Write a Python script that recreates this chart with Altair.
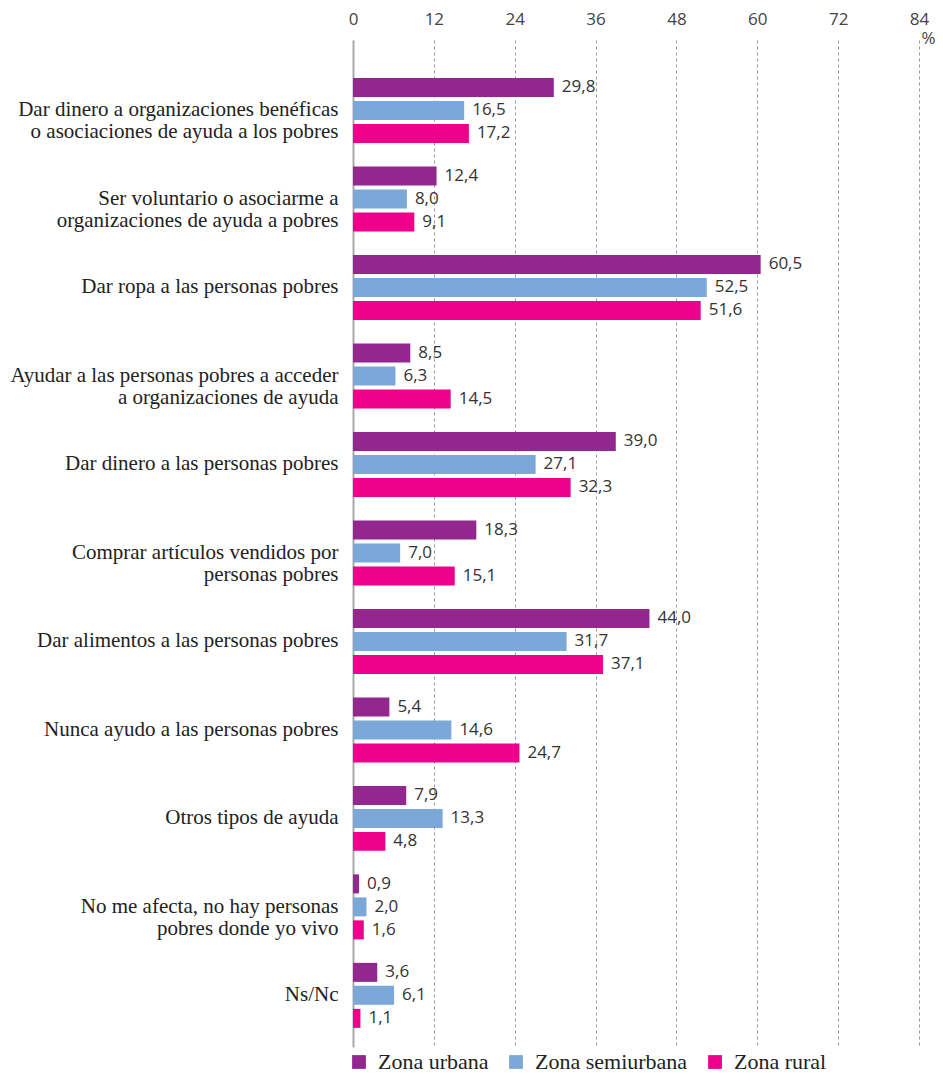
import altair as alt
import pandas as pd

categorias = [
    "Dar dinero a organizaciones benéficas|o asociaciones de ayuda a los pobres",
    "Ser voluntario o asociarme a|organizaciones de ayuda a pobres",
    "Dar ropa a las personas pobres",
    "Ayudar a las personas pobres a acceder|a organizaciones de ayuda",
    "Dar dinero a las personas pobres",
    "Comprar artículos vendidos por|personas pobres",
    "Dar alimentos a las personas pobres",
    "Nunca ayudo a las personas pobres",
    "Otros tipos de ayuda",
    "No me afecta, no hay personas|pobres donde yo vivo",
    "Ns/Nc",
]
zonas = ["Zona urbana", "Zona semiurbana", "Zona rural"]
urbana = [29.8, 12.4, 60.5, 8.5, 39.0, 18.3, 44.0, 5.4, 7.9, 0.9, 3.6]
semiurbana = [16.5, 8.0, 52.5, 6.3, 27.1, 7.0, 31.7, 14.6, 13.3, 2.0, 6.1]
rural = [17.2, 9.1, 51.6, 14.5, 32.3, 15.1, 37.1, 24.7, 4.8, 1.6, 1.1]
colores = ["#92278F", "#7BA7D9", "#EC008C"]
ticks_x = [0, 12, 24, 36, 48, 60, 72, 84]

rows = []
for serie, zona in zip([urbana, semiurbana, rural], zonas):
    for cat, v in zip(categorias, serie):
        rows.append({"cat": cat, "zona": zona, "valor": v,
                     "etiqueta": f"{v:.1f}".replace(".", ",")})
df = pd.DataFrame(rows)

y_enc = alt.Y("cat:N", sort=categorias,
              scale=alt.Scale(paddingInner=0, paddingOuter=0.19, align=0.78),
              axis=alt.Axis(title=None, labelExpr="split(datum.label, '|')",
                            labelFont="Liberation Serif", labelFontSize=21,
                            labelColor="#222", labelAlign="right",
                            labelBaseline="middle", labelLineHeight=22,
                            labelPadding=15, labelLimit=400, ticks=False,
                            tickSize=0, domain=True, domainColor="#aaaaaa",
                            domainWidth=2, grid=False))
yoff_enc = alt.YOffset("zona:N", sort=zonas,
                       scale=alt.Scale(paddingInner=0.174, paddingOuter=0.511))
x_enc = alt.X("valor:Q",
              scale=alt.Scale(domain=[0, 84], nice=False),
              axis=alt.Axis(orient="top", values=ticks_x, title="%",
                            titleFont="Open Sans", titleFontSize=17,
                            titleFontWeight="normal", titleColor="#444",
                            titleX=575, titleY=-2, titleAlign="center",
                            titleBaseline="middle", titleAngle=0,
                            labelFont="Open Sans", labelFontSize=17,
                            labelColor="#444", labelPadding=12,
                            labelFlush=False,
                            ticks=False, tickSize=0, domain=False,
                            grid=True, gridColor="#999999", gridDash=[3, 3],
                            gridWidth=1))

color_enc = alt.Color("zona:N", sort=zonas,
                      scale=alt.Scale(domain=zonas, range=colores),
                      legend=alt.Legend(title=None, orient="none",
                                        direction="horizontal",
                                        legendX=-5, legendY=1011, padding=0,
                                        symbolType="square", symbolSize=190,
                                        symbolStrokeWidth=0,
                                        labelFont="Liberation Serif",
                                        labelFontSize=22, labelColor="#222",
                                        labelOffset=8, columnPadding=16,
                                        labelLimit=300))

base = alt.Chart(df).encode(y=y_enc, yOffset=yoff_enc, x=x_enc)

bars = base.mark_bar().encode(color=color_enc)
texts = base.mark_text(align="left", baseline="middle", dx=8,
                       font="Open Sans", fontSize=17, color="#333").encode(
    text="etiqueta:N")

chart = (bars + texts).properties(
    width=566, height=1007,
    autosize=alt.AutoSizeParams(type="none"),
    padding={"left": 345, "top": 32, "right": 16, "bottom": 26},
).configure_view(stroke=None)

chart.save("out.html", embed_options={"renderer": "svg", "actions": False})
